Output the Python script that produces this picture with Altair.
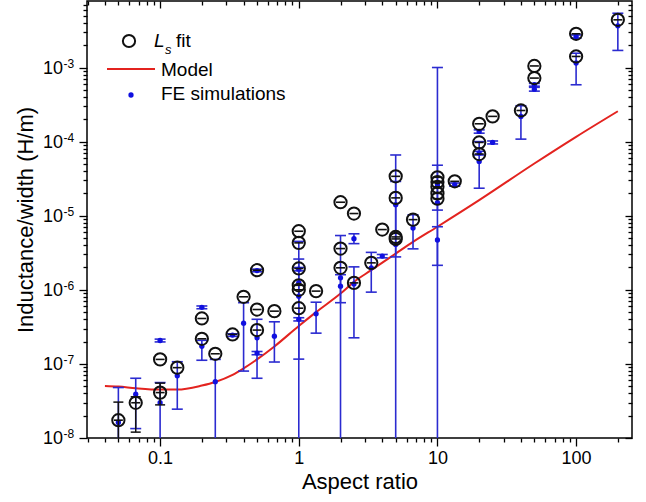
import altair as alt
import pandas as pd

FONT = "Liberation Sans"
BLUE = "#2b2bd0"
BLUE_DOT = "#1010e0"
RED = "#e3231f"
BLACK = "#111111"

# ---------------- data ----------------
# L_s fit (open circles)
ls_x = [0.05, 0.0667, 0.1, 0.1, 0.133, 0.2, 0.2, 0.25, 0.333, 0.4,
        0.5, 0.5, 0.5, 0.667, 1, 1, 1, 1, 1, 1,
        1.333, 2, 2, 2, 2.5, 2.5, 3.333, 4, 5, 5,
        5, 5, 6.667, 10, 10, 10, 10, 10, 13.33, 20,
        20, 20, 25, 40, 50, 50, 100, 100, 200]
ls_y = [1.74e-8, 2.99e-8, 1.15e-7, 4.1e-8, 8.9e-8, 4.1e-7, 2.18e-7, 1.37e-7, 2.5e-7, 8.05e-7,
        1.84e-6, 5.42e-7, 2.86e-7, 5.15e-7, 6.17e-6, 4.3e-6, 1.94e-6, 1.15e-6, 1.0e-6, 5.65e-7,
        9.6e-7, 1.52e-5, 3.6e-6, 1.98e-6, 1.07e-5, 1.24e-6, 2.31e-6, 6.5e-6, 3.4e-5, 1.74e-5,
        5.17e-6, 4.86e-6, 8.85e-6, 3.3e-5, 2.85e-5, 2.45e-5, 2.0e-5, 1.7e-5, 2.91e-5, 1.74e-4,
        9.75e-5, 6.8e-5, 2.19e-4, 2.63e-4, 1.05e-3, 7.2e-4, 2.85e-3, 1.41e-3, 4.4e-3]

# larger L_s fit error bars (visible outside the circles)
lserr_x = [0.05, 0.0667, 0.1]
lserr_lo = [5e-9, 1.2e-8, 2.8e-8]
lserr_hi = [3.05e-8, 3.6e-8, 5.5e-8]

# FE simulations (blue dots with error bars)
fe_x = [0.05, 0.0667, 0.1, 0.1, 0.133, 0.2, 0.2, 0.25, 0.333, 0.4,
        0.5, 0.5, 0.5, 0.667, 1, 1, 1, 1, 1.333, 2,
        2, 2.5, 2.5, 3.333, 4, 5, 5, 6.667, 10, 10,
        10, 13.33, 20, 20, 20, 25, 40, 50, 50, 100,
        100, 200]
fe_y = [1.62e-8, 3.9e-8, 2.07e-7, 3.0e-8, 6.9e-8, 5.8e-7, 1.73e-7, 5.75e-8, 2.45e-7, 3.55e-7,
        1.82e-6, 2.25e-7, 1.4e-7, 2.37e-7, 1.9e-6, 1.25e-6, 8.2e-7, 4.0e-7, 4.74e-7, 1.45e-6,
        1.12e-6, 4.9e-6, 1.2e-6, 1.98e-6, 2.85e-6, 1.41e-5, 4.1e-6, 6.8e-6, 2.6e-5, 1.5e-5,
        4.7e-6, 2.63e-5, 1.37e-4, 7.0e-5, 5.4e-5, 9.75e-5, 2.19e-4, 5.85e-4, 5.1e-4, 2.62e-3,
        1.15e-3, 3.65e-3]
fe_lo = [5e-9, 1.34e-8, 1.98e-7, 5e-9, 2.45e-8, 5.55e-7, 1.12e-7, 5e-9, 2.35e-7, 8.0e-8,
         1.75e-6, 6.4e-8, 1.33e-7, 1.06e-7, 1.8e-6, 1.16e-7, 5e-9, 3.8e-7, 2.6e-7, 6.7e-7,
         5e-9, 4.2e-6, 2.25e-7, 9.3e-7, 2.7e-6, 2.78e-6, 5e-9, 3.57e-6, 2.14e-6, 1.19e-5,
         5e-9, 2.5e-5, 1.3e-4, 6.6e-5, 2.35e-5, 9.3e-5, 1.08e-4, 5.6e-4, 4.8e-4, 2.5e-3,
         5.85e-4, 1.7e-3]
fe_hi = [4.8e-8, 6.4e-8, 2.16e-7, 5.6e-8, 1.07e-7, 6.05e-7, 2.08e-7, 1.15e-7, 2.55e-7, 6.7e-7,
         1.9e-6, 4.0e-7, 1.47e-7, 3.7e-7, 2.0e-6, 2.6e-6, 4.5e-6, 4.2e-7, 6.8e-7, 5.4e-6,
         1.6e-6, 5.7e-6, 2.04e-6, 3.2e-6, 3.0e-6, 6.6e-5, 2.9e-5, 1.03e-5, 1.0e-3, 4.8e-5,
         7.1e-6, 2.76e-5, 1.44e-4, 7.4e-5, 1.0e-4, 1.02e-4, 3.05e-4, 6.1e-4, 5.4e-4, 2.75e-3,
         1.56e-3, 5.4e-3]

# Model curve
model_x = [0.04, 0.05, 0.0667, 0.1, 0.133, 0.2, 0.25, 0.333, 0.4, 0.5, 0.667,
           1, 1.333, 2, 2.5, 3.333, 5, 6.667, 10, 20, 50, 100, 200]
model_y = [5.05e-8, 4.95e-8, 4.7e-8, 4.5e-8, 4.5e-8, 5.1e-8, 5.7e-8, 7.1e-8, 8.7e-8, 1.15e-7, 1.72e-7,
           3.25e-7, 5.0e-7, 8.9e-7, 1.28e-6, 1.84e-6, 3.08e-6, 4.43e-6, 7.1e-6, 1.62e-5, 5.06e-5, 1.16e-4, 2.57e-4]

# axes
x_domain = [0.0297, 253]
y_domain = [1e-8, 7.9e-3]
x_major = [0.1, 1, 10, 100]
x_minor = [m * 10.0 ** e for e in range(-2, 3) for m in range(2, 10)
           if x_domain[0] <= m * 10.0 ** e <= x_domain[1]]
y_major = [1e-8, 1e-7, 1e-6, 1e-5, 1e-4, 1e-3]
y_exp = ["-8", "-7", "-6", "-5", "-4", "-3"]
y_minor = [m * 10.0 ** e for e in range(-8, -2) for m in range(2, 10)
           if y_domain[0] <= m * 10.0 ** e <= y_domain[1]]
x_ticks = sorted(x_major + x_minor)
y_ticks = sorted(y_major + y_minor)

W, H = 545, 437

# ---------------- chart ----------------
xs = alt.Scale(type="log", domain=x_domain, nice=False)
ys = alt.Scale(type="log", domain=y_domain, nice=False)

is_major = "abs(log(datum.value)/LN10 - round(log(datum.value)/LN10)) < 0.01"
tick_len = {"condition": {"test": is_major, "value": 8}, "value": 4}
tick_len_in = {"condition": {"test": is_major, "value": 7}, "value": 4}

x_axis_bottom = alt.Axis(
    orient="bottom", values=x_ticks, tickSize=tick_len, tickColor="black", tickWidth=1.3,
    domain=False, grid=False, labelExpr=f"{is_major} ? format(datum.value, '~g') : ''",
    labelFont=FONT, labelFontSize=18, labelColor="black", labelPadding=3,
    labelOverlap=False, labelFlush=False,
    title="Aspect ratio", titleFont=FONT, titleFontSize=22, titleFontWeight="normal",
    titleColor="black", titleY=50, titleBaseline="alphabetic")
x_axis_top = alt.Axis(
    orient="bottom", offset=-H, values=x_ticks, tickSize=tick_len_in, tickColor="black",
    tickWidth=1.3, domain=False, grid=False, labels=False, title="")
y_axis_left = alt.Axis(
    orient="left", values=y_ticks, tickSize=tick_len, tickColor="black", tickWidth=1.3,
    domain=False, grid=False, labels=False,
    title="Inductance/width (H/m)", titleFont=FONT, titleFontSize=22, titleFontWeight="normal",
    titleColor="black", titleX=-62, titleY=H / 2, titleAngle=270, titleBaseline="middle",
    titleAlign="center")
y_axis_right = alt.Axis(
    orient="left", offset=-W, values=y_ticks, tickSize=tick_len_in, tickColor="black",
    tickWidth=1.3, domain=False, grid=False, labels=False, title="")

fe_df = pd.DataFrame({"x": fe_x, "y": fe_y, "lo": fe_lo, "hi": fe_hi})
ls_df = pd.DataFrame({"x": ls_x, "y": ls_y})
lserr_df = pd.DataFrame({"x": lserr_x, "lo": lserr_lo, "hi": lserr_hi})
model_df = pd.DataFrame({"x": model_x, "y": model_y})
ylab_df = pd.DataFrame({"v": y_major, "e": y_exp})
one = pd.DataFrame({"k": [0]})

X = lambda f, ax=None: alt.X(f, scale=xs, axis=ax)
Y = lambda f, ax=None: alt.Y(f, scale=ys, axis=ax)

fe_bars = alt.Chart(fe_df).mark_rule(color=BLUE, strokeWidth=1.6, clip=True).encode(
    x=X("x:Q"), y=Y("lo:Q"), y2="hi:Q")
fe_caps = alt.Chart(fe_df).transform_fold(["lo", "hi"], as_=["k", "c"]).mark_tick(
    orient="horizontal", size=11, thickness=1.6, color=BLUE, opacity=1, clip=True).encode(
    x=X("x:Q"), y=Y("c:Q"))
fe_dots = alt.Chart(fe_df).mark_point(filled=True, size=28, color=BLUE_DOT, opacity=1,
                                      clip=True).encode(
    x=X("x:Q", x_axis_top), y=Y("y:Q", y_axis_right))

ls_bars = alt.Chart(lserr_df).mark_rule(color=BLACK, strokeWidth=1.5, clip=True).encode(
    x=X("x:Q"), y=Y("lo:Q"), y2="hi:Q")
ls_caps = alt.Chart(lserr_df).transform_fold(["lo", "hi"], as_=["k", "c"]).mark_tick(
    orient="horizontal", size=10, thickness=1.5, color=BLACK, opacity=1, clip=True).encode(
    x=X("x:Q"), y=Y("c:Q"))
ls_circ = alt.Chart(ls_df).mark_point(shape="circle", filled=False, size=150, stroke=BLACK,
                                      strokeWidth=2, opacity=1, clip=True).encode(
    x=X("x:Q"), y=Y("y:Q"))
ls_mid = alt.Chart(ls_df).mark_tick(orient="horizontal", size=9, thickness=1.6, color=BLACK,
                                    opacity=1, clip=True).encode(x=X("x:Q"), y=Y("y:Q"))

model = alt.Chart(model_df).mark_line(color=RED, strokeWidth=2, interpolate="monotone",
                                      clip=True).encode(
    x=X("x:Q", x_axis_bottom), y=Y("y:Q", y_axis_left))

ten = alt.Chart(ylab_df).mark_text(text="10", align="right", baseline="middle", font=FONT,
                                   fontSize=18, color="black", dy=1).encode(
    x=alt.value(-24), y=Y("v:Q"))
expo = alt.Chart(ylab_df).mark_text(align="left", baseline="middle", font=FONT, fontSize=12,
                                    color="black", dy=-4).encode(
    x=alt.value(-23.5), y=Y("v:Q"), text="e:N")

# legend (drawn inside the plot, top-left)
leg_circ = alt.Chart(one).mark_point(shape="circle", filled=False, size=150, stroke=BLACK,
                                     strokeWidth=2, opacity=1).encode(
    x=alt.value(42), y=alt.value(40))
leg_L = alt.Chart(one).mark_text(text="L", align="left", baseline="middle", font=FONT,
                                 fontSize=19, fontStyle="italic", color="black").encode(
    x=alt.value(67), y=alt.value(40))
leg_s = alt.Chart(one).mark_text(text="s", align="left", baseline="middle", font=FONT,
                                 fontSize=13, fontStyle="italic", color="black").encode(
    x=alt.value(78), y=alt.value(49))
leg_fit = alt.Chart(one).mark_text(text="fit", align="left", baseline="middle", font=FONT,
                                   fontSize=19, color="black").encode(
    x=alt.value(89), y=alt.value(40))
leg_line = alt.Chart(one).mark_rule(color=RED, strokeWidth=2).encode(
    x=alt.value(20), x2=alt.value(68), y=alt.value(68))
leg_model = alt.Chart(one).mark_text(text="Model", align="left", baseline="middle", font=FONT,
                                     fontSize=19, color="black").encode(
    x=alt.value(74), y=alt.value(69))
leg_dot = alt.Chart(one).mark_point(filled=True, size=28, color=BLUE_DOT, opacity=1).encode(
    x=alt.value(44), y=alt.value(94))
leg_fe = alt.Chart(one).mark_text(text="FE simulations", align="left", baseline="middle",
                                  font=FONT, fontSize=19, color="black").encode(
    x=alt.value(74), y=alt.value(93))

chart = alt.layer(
    model, fe_bars, fe_caps, fe_dots, ls_bars, ls_caps, ls_circ, ls_mid,
    ten, expo, leg_circ, leg_L, leg_s, leg_fit, leg_line, leg_model, leg_dot, leg_fe
).resolve_scale(x="shared", y="shared").resolve_axis(
    x="independent", y="independent"
).properties(
    width=W, height=H,
    padding={"left": 87, "top": 1, "right": 14, "bottom": 64},
    autosize=alt.AutoSizeParams(type="none"),
    background="white",
).configure_view(stroke="black", strokeWidth=1.5)

chart.save("out.html", embed_options={"renderer": "svg", "actions": False})
